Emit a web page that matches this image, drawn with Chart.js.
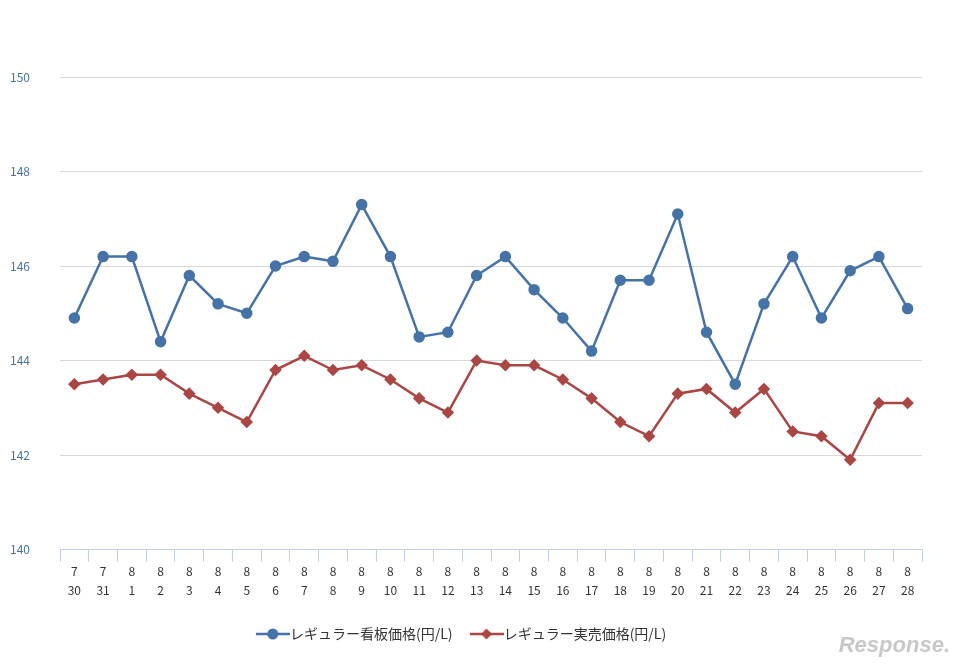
<!DOCTYPE html>
<html><head><meta charset="utf-8">
<script src="https://cdn.jsdelivr.net/npm/chart.js@4/dist/chart.umd.min.js"></script>
<style>body{margin:0;background:#fff}#w{position:relative;width:968px;height:668px}
#wm{position:absolute;right:18px;bottom:10px;font:italic bold 22px "Liberation Sans",sans-serif;color:#c8c8c8}</style>
</head><body><div id="w"><canvas id="c" width="968" height="668"></canvas><div id="wm">Response.</div></div>
<script>
const months=['7','7','8','8','8','8','8','8','8','8','8','8','8','8','8','8','8','8','8','8','8','8','8','8','8','8','8','8','8','8'];
const days=['30','31','1','2','3','4','5','6','7','8','9','10','11','12','13','14','15','16','17','18','19','20','21','22','23','24','25','26','27','28'];
const kanban=[144.9,146.2,146.2,144.4,145.8,145.2,145.0,146.0,146.2,146.1,147.3,146.2,144.5,144.6,145.8,146.2,145.5,144.9,144.2,145.7,145.7,147.1,144.6,143.5,145.2,146.2,144.9,145.9,146.2,145.1];
const jitsubai=[143.5,143.6,143.7,143.7,143.3,143.0,142.7,143.8,144.1,143.8,143.9,143.6,143.2,142.9,144.0,143.9,143.9,143.6,143.2,142.7,142.4,143.3,143.4,142.9,143.4,142.5,142.4,141.9,143.1,143.1];
const labels=months.map((m,i)=>[m,days[i]]);
function icon(color,diamond){const c=document.createElement('canvas');c.width=34;c.height=14;const g=c.getContext('2d');
g.strokeStyle=color;g.lineWidth=2.5;g.beginPath();g.moveTo(0,7);g.lineTo(34,7);g.stroke();g.fillStyle=color;g.beginPath();
if(diamond){g.moveTo(17,1.5);g.lineTo(22.5,7);g.lineTo(17,12.5);g.lineTo(11.5,7);g.closePath();}else{g.arc(17,7,5.5,0,Math.PI*2);}
g.fill();return c;}
const icons=[icon('#4572a7',false),icon('#aa4643',true)];
Chart.defaults.font.family='"Noto Sans CJK JP","DejaVu Sans",sans-serif';
new Chart(document.getElementById('c'),{type:'line',
data:{labels,datasets:[
{label:'レギュラー看板価格(円/L)',data:kanban,borderColor:'#4572a7',backgroundColor:'#4572a7',borderWidth:2.5,pointRadius:4.5,pointHoverRadius:4.5,pointStyle:'circle',tension:0},
{label:'レギュラー実売価格(円/L)',data:jitsubai,borderColor:'#aa4643',backgroundColor:'#aa4643',borderWidth:2.5,pointRadius:4.5,pointHoverRadius:4.5,pointStyle:'rectRot',tension:0}]},
options:{responsive:false,animation:false,
layout:{padding:{top:77,right:46,left:10,bottom:17}},
plugins:{legend:{position:'bottom',labels:{usePointStyle:true,font:{size:14},color:'#333',padding:27,
generateLabels:(ch)=>ch.data.datasets.map((d,i)=>({text:' '+d.label,pointStyle:icons[i],fillStyle:d.borderColor,strokeStyle:d.borderColor,lineWidth:0,datasetIndex:i,hidden:false,fontColor:'#333'}))}},tooltip:{enabled:false}},
scales:{
x:{offset:true,grid:{display:true,drawOnChartArea:false,color:'#c0d0e0',tickLength:12,offset:true},border:{color:'#c0d0e0'},ticks:{color:'#333',font:{size:12,lineHeight:1.6},maxRotation:0,autoSkip:false,padding:0}},
y:{min:140,max:150,afterFit:(s)=>{s.width=50;},grid:{color:'#d8d8d8',drawTicks:false},border:{display:false},ticks:{stepSize:2,color:'#4572a7',font:{size:12},padding:30,crossAlign:'far'}}
}}});
</script></body></html>
